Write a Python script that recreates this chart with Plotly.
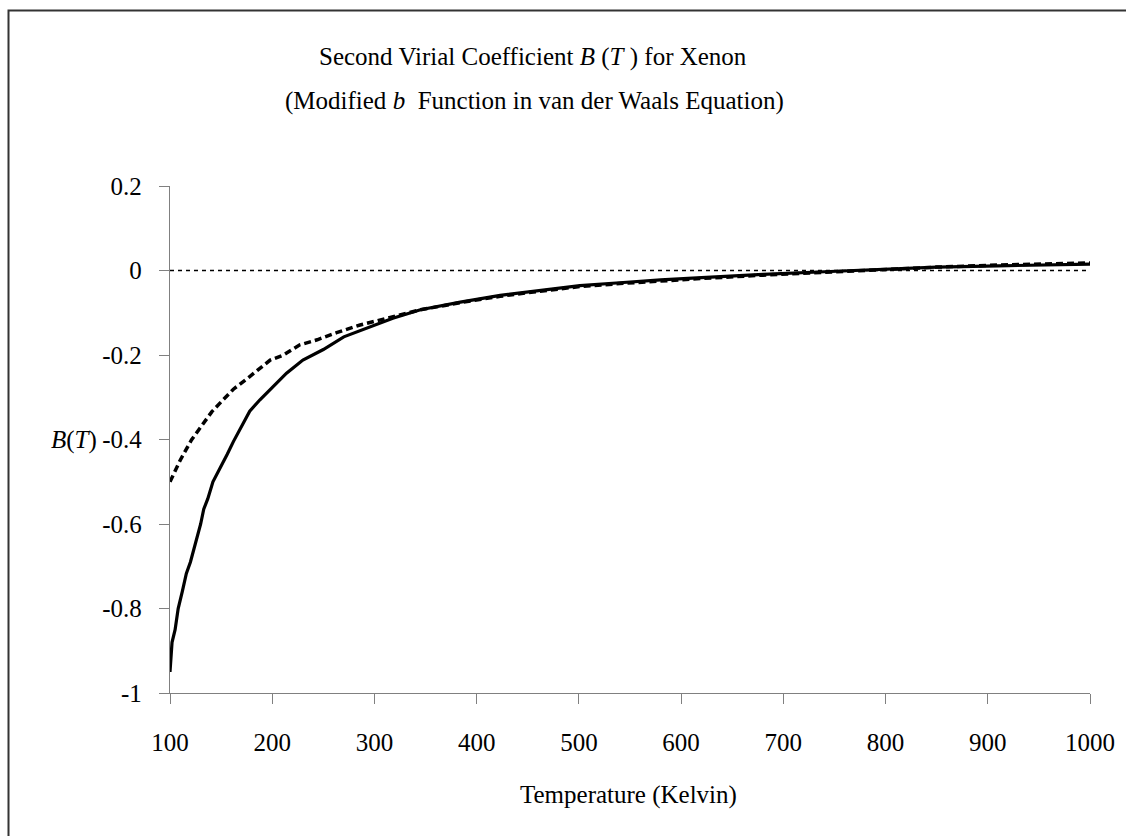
import plotly.graph_objects as go

# ---- data ----
T_solid = [100, 102, 105, 108, 112, 116, 120, 125, 130, 133, 137, 142, 150, 156, 162, 169,
           178, 188, 200, 214, 230, 250, 270, 290, 318, 345, 384, 423, 462, 501, 540, 580,
           620, 680, 740, 790, 850, 910, 960, 1000]
B_solid = [-0.95, -0.88, -0.85, -0.80, -0.76, -0.717, -0.69, -0.646, -0.60, -0.565, -0.54,
           -0.50, -0.465, -0.435, -0.405, -0.372, -0.333, -0.306, -0.277, -0.243, -0.212,
           -0.187, -0.157, -0.139, -0.113, -0.093, -0.075, -0.059, -0.047, -0.036, -0.029,
           -0.022, -0.017, -0.009, -0.003, 0.002, 0.008, 0.011, 0.013, 0.015]

T_dash = [100, 110, 121, 133, 141, 152, 162, 178, 198, 211, 227, 244, 263, 286, 318, 345,
          384, 423, 462, 501, 540, 580, 620, 680, 740, 790, 850, 910, 960, 1000]
B_dash = [-0.50, -0.449, -0.401, -0.362, -0.334, -0.306, -0.281, -0.251, -0.212, -0.200,
          -0.176, -0.164, -0.147, -0.129, -0.109, -0.093, -0.076, -0.061, -0.049, -0.038,
          -0.031, -0.024, -0.019, -0.011, -0.004, 0.002, 0.008, 0.013, 0.016, 0.018]

T_zero = [100, 1000]
B_zero = [0, 0]

x_ticks = [100, 200, 300, 400, 500, 600, 700, 800, 900, 1000]
y_ticks = [0.2, 0, -0.2, -0.4, -0.6, -0.8, -1]
y_ticktext = ["0.2", "0", "-0.2", "-0.4", "-0.6", "-0.8", "-1"]

FONT = "Liberation Serif, Times New Roman, serif"
FS = 25

fig = go.Figure()
fig.add_trace(go.Scatter(x=T_zero, y=B_zero, mode="lines",
                         line=dict(color="black", width=1.5, dash="4px,4px"),
                         showlegend=False, hoverinfo="skip"))
fig.add_trace(go.Scatter(x=T_dash, y=B_dash, mode="lines",
                         line=dict(color="black", width=3.5, dash="7px,4px"),
                         showlegend=False))
fig.add_trace(go.Scatter(x=T_solid, y=B_solid, mode="lines",
                         line=dict(color="black", width=3.2),
                         showlegend=False))

W, H = 1126, 836
L, R, T, B = 170, 36, 186, 143
pw, ph = W - L - R, H - T - B


def px(x):
    return (x - L) / pw


def py(y):
    return (H - B - y) / ph


fig.update_layout(
    width=W, height=H,
    margin=dict(l=L, r=R, t=T, b=B),
    paper_bgcolor="white", plot_bgcolor="white",
    font=dict(family=FONT, size=FS, color="black"),
    xaxis=dict(range=[100, 1000], tickvals=x_ticks, showgrid=False, zeroline=False,
               showline=True, linecolor="#808080", linewidth=1.3,
               ticks="outside", ticklen=10, tickcolor="#808080", tickwidth=1.3,
               ticklabelstandoff=17, tickfont=dict(family=FONT, size=FS)),
    yaxis=dict(range=[-1, 0.2], tickvals=y_ticks, ticktext=y_ticktext, showgrid=False,
               zeroline=False, showline=True, linecolor="#808080", linewidth=1.3,
               ticks="outside", ticklen=10, tickcolor="#808080", tickwidth=1.3,
               ticklabelstandoff=12, tickfont=dict(family=FONT, size=FS)),
    shapes=[dict(type="rect", xref="paper", yref="paper",
                 x0=px(8.5), x1=px(1135), y0=py(845), y1=py(10.5),
                 line=dict(color="#333333", width=2), layer="above")],
    annotations=[
        dict(text="Second Virial Coefficient <i>B</i> (<i>T</i> ) for Xenon",
             xref="paper", yref="paper", x=px(533), y=py(57), showarrow=False,
             xanchor="center", yanchor="middle", font=dict(family=FONT, size=FS)),
        dict(text="(Modified <i>b</i>  Function in van der Waals Equation)",
             xref="paper", yref="paper", x=px(534), y=py(101), showarrow=False,
             xanchor="center", yanchor="middle", font=dict(family=FONT, size=FS)),
        dict(text="Temperature (Kelvin)",
             xref="paper", yref="paper", x=px(628), y=py(795), showarrow=False,
             xanchor="center", yanchor="middle", font=dict(family=FONT, size=FS)),
        dict(text="<i>B</i>(<i>T</i>)",
             xref="paper", yref="paper", x=px(99), y=py(440), showarrow=False,
             xanchor="right", yanchor="middle", font=dict(family=FONT, size=FS)),
    ],
)

fig.write_html("out.html")
